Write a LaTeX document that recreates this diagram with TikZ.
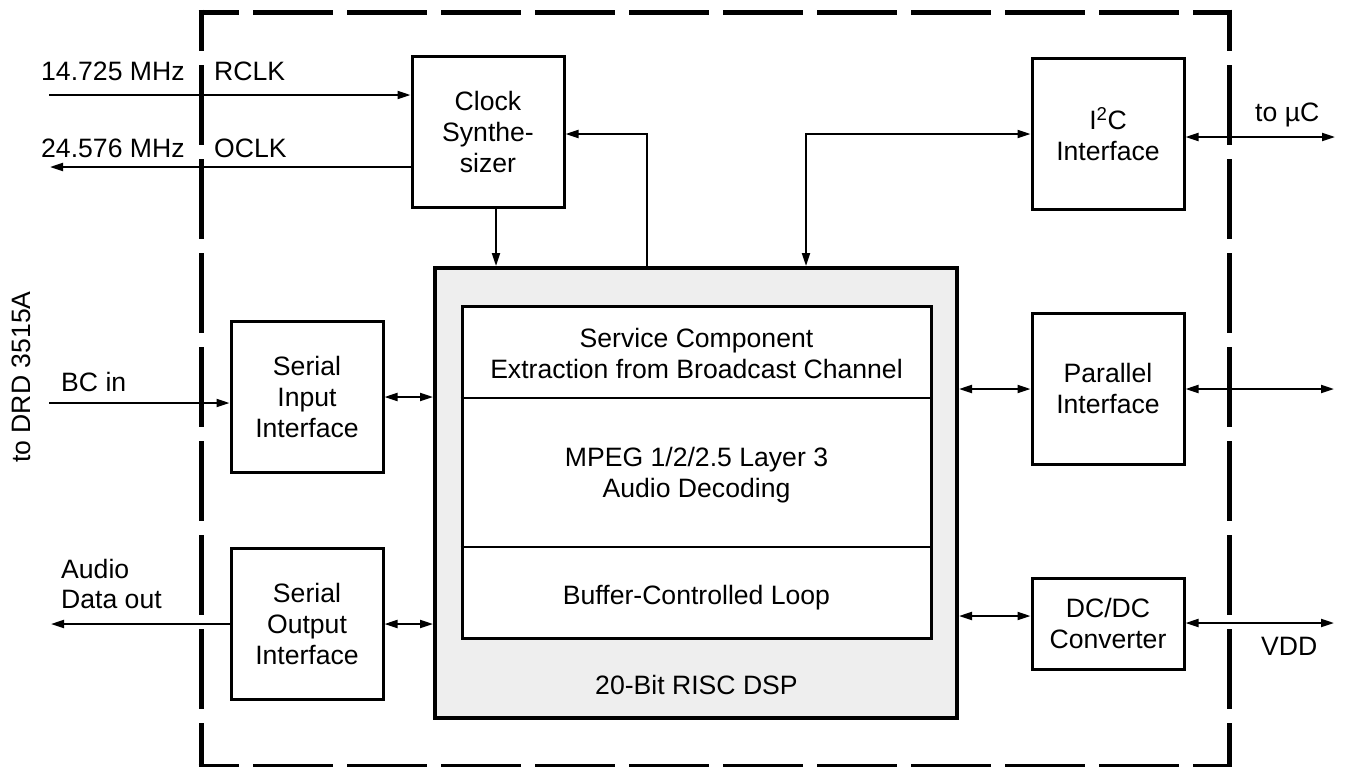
\documentclass[tikz,border=0pt]{standalone}
\usepackage{fontspec}
\setmainfont{Liberation Sans}
\usetikzlibrary{arrows.meta,calc}
\definecolor{dspgray}{HTML}{EEEEEE}
\begin{document}
\begin{tikzpicture}[x=1pt,y=-1pt,
  every node/.style={font=\fontsize{26.6}{31}\selectfont},
  blk/.style={draw, line width=3pt, minimum width=152pt, minimum height=151pt, align=center, inner sep=0pt},
  conn/.style={line width=2pt},
  arr/.style={conn, -{Triangle[length=13pt,width=8pt]}},
  darr/.style={conn, {Triangle[length=13pt,width=8pt]}-{Triangle[length=13pt,width=8pt]}},
  frame/.style={line width=5pt, dash pattern=on 80pt off 14pt},
  lbl/.style={inner sep=0pt, anchor=base west},
  txt/.style={inner sep=0pt, align=center},
]
\useasboundingbox (0,0) rectangle (1347,766);

% DSP block
\node[draw, line width=4pt, fill=dspgray, minimum width=522pt, minimum height=450pt] (dsp) at (696,493) {};
\node[draw, line width=3pt, fill=white, minimum width=469pt, minimum height=332pt] (core) at (696.5,472) {};
\coordinate (d1) at (0,398);
\coordinate (d2) at (0,547);
\draw[line width=2.5pt] (core.west |- d1) -- (core.east |- d1);
\draw[line width=2.5pt] (core.west |- d2) -- (core.east |- d2);
\node[txt] (t1) at (696.5,353) {Service Component\\Extraction from Broadcast Channel};
\node[txt] (t2) at (696.5,475) {MPEG 1/2/2.5 Layer 3\\Audio Decoding};
\node[txt] (t3) at (696.5,598) {Buffer-Controlled Loop};
\node[txt] (t4) at (696.5,685) {20-Bit RISC DSP};

% blocks
\node[blk] (clk) at (488,131.5) {Clock\\Synthe-\\sizer};
\node[blk] (i2c) at (1108,134) {I\textsuperscript{2}C\\Interface};
\node[blk] (sin) at (307,396.5) {Serial\\Input\\Interface};
\node[blk] (sout) at (307,623.5) {Serial\\Output\\Interface};
\node[blk] (par) at (1108,388.5) {Parallel\\Interface};
\node[blk, minimum height=91pt] (dcdc) at (1108,623.5) {DC/DC\\Converter};

% frame
\draw[frame, dash phase=39.5pt] (198.5,12) -- (1231.5,12);
\draw[frame, dash phase=38.5pt] (201,9.5) -- (201,769);
\draw[frame, dash phase=38.5pt] (1229,9.5) -- (1229,769);
\draw[frame, dash phase=39.5pt] (198.5,766.5) -- (1231.5,766.5);

% labels
\node[lbl] (l1) at (41,80) {14.725 MHz};
\node[lbl] (l2) at (214,80) {RCLK};
\node[lbl] (l3) at (41,157) {24.576 MHz};
\node[lbl] (l4) at (214,157) {OCLK};
\node[lbl] (l5) at (61,391) {BC in};
\node[lbl] (l6) at (61,578) {Audio};
\node[lbl] (l7) at (61,608) {Data out};
\node[lbl] (l8) at (1255,121) {to µC};
\node[lbl] (l9) at (1261,655) {VDD};
\node[inner sep=0pt, rotate=90] (l10) at (21,377) {to DRD 3515A};

% connectors
\coordinate (rin) at (49,95);
\draw[arr] (rin) -- (rin -| clk.west);
\coordinate (oout) at (50,167);
\draw[arr] (oout -| clk.west) -- (oout);
\coordinate (cd) at (496,0);
\draw[arr] (cd |- clk.south) -- (cd |- dsp.north);
\coordinate (fb) at (647,134);
\draw[arr] (fb |- dsp.north) -- (fb) -- (fb -| clk.east);
\coordinate (ic) at (806,134);
\draw[darr] (ic |- dsp.north) -- (ic) -- (ic -| i2c.west);
\coordinate (uc) at (1335,137);
\draw[darr] (uc -| i2c.east) -- (uc);
\coordinate (bc) at (49,403);
\draw[arr] (bc) -- (bc -| sin.west);
\coordinate (sy) at (0,397);
\draw[darr] (sy -| sin.east) -- (sy -| dsp.west);
\coordinate (ao) at (51,624);
\draw[arr] (ao -| sout.west) -- (ao);
\draw[darr] (ao -| sout.east) -- (ao -| dsp.west);
\coordinate (py) at (1334,389);
\draw[darr] (py -| dsp.east) -- (py -| par.west);
\draw[darr] (py -| par.east) -- (py);
\coordinate (dy) at (0,616);
\draw[darr] (dy -| dsp.east) -- (dy -| dcdc.west);
\coordinate (vd) at (1334,623);
\draw[darr] (vd -| dcdc.east) -- (vd);
\end{tikzpicture}
\end{document}
